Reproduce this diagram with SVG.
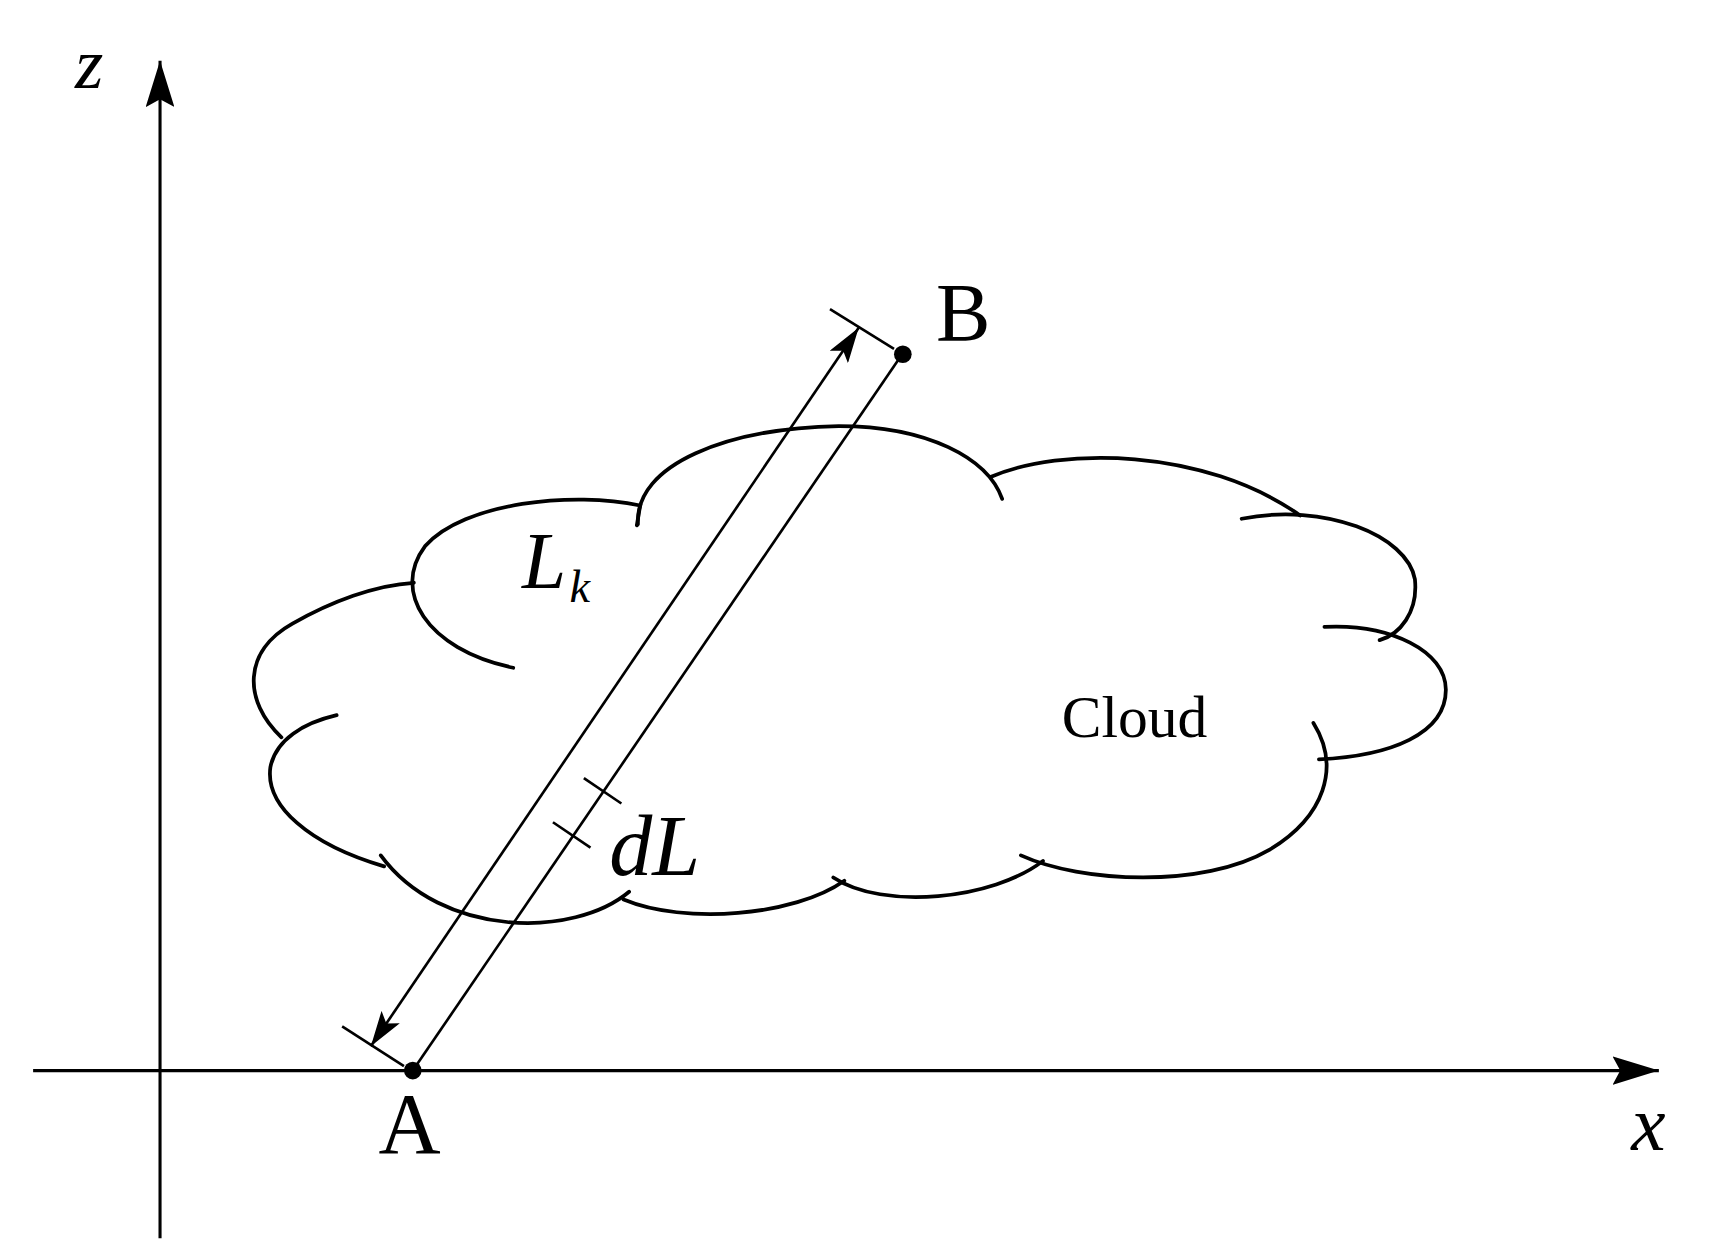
<svg xmlns="http://www.w3.org/2000/svg" width="1713" height="1244" viewBox="0 0 1713 1244">
<style>
.ax{stroke:#000;stroke-width:2.8;fill:none}
.ln{stroke:#000;stroke-width:2.4;fill:none}
.cl{stroke:#000;stroke-width:3.4;fill:none;stroke-linecap:round}
.t{font-family:"Liberation Serif",serif;fill:#000}
.i{font-style:italic}
</style>
<defs>
<marker id="ah" viewBox="0 0 32 20" refX="32" refY="10" markerWidth="32" markerHeight="20" markerUnits="userSpaceOnUse" orient="auto-start-reverse"><path d="M0,0 L32,10 L0,20 L7,10 Z" fill="#000"/></marker>
<marker id="ax" viewBox="0 0 42 26" refX="42" refY="13" markerWidth="42" markerHeight="26" markerUnits="userSpaceOnUse" orient="auto"><path d="M0,0 L42,13 L0,26 L7,13 Z" fill="#000"/></marker>
</defs>
<rect width="1713" height="1244" fill="#fff"/>
<g transform="scale(1.1037)">
<g id="axes">
<line class="ax" x1="145" y1="1122" x2="145" y2="55" marker-end="url(#ax)"/>
<line class="ax" x1="30" y1="970" x2="1503" y2="970" marker-end="url(#ax)"/>
<text class="t i" x="68" y="80" font-size="66">z</text>
<text class="t i" x="1478" y="1042" font-size="70">x</text>
</g>
<g id="cloud">
<path class="cl" d="M465,605 C385,588 355,535 385,495 C420,455 520,445 580,458 L577,476"/>
<path class="cl" d="M578,475 C575,420 660,388 760,386 C840,386 895,415 908,452"/>
<path class="cl" d="M898,432 C960,405 1090,405 1178,467"/>
<path class="cl" d="M1125,470 C1200,455 1275,485 1282,525 C1285,555 1268,575 1250,580"/>
<path class="cl" d="M1200,568 C1260,565 1310,590 1310,625 C1310,665 1260,685 1195,688"/>
<path class="cl" d="M1190,655 C1215,695 1200,740 1150,770 C1090,805 980,800 925,775"/>
<path class="cl" d="M945,780 C900,815 800,825 755,795"/>
<path class="cl" d="M765,798 C720,830 620,838 565,815"/>
<path class="cl" d="M570,808 C520,850 400,850 345,775"/>
<path class="cl" d="M348,785 C280,765 240,730 245,695 C250,670 275,655 305,648"/>
<path class="cl" d="M255,668 C220,635 220,590 265,565 C300,545 340,530 375,528"/>
<text class="t" x="962" y="668" font-size="54">Cloud</text>
</g>
<g id="path">
<line class="ln" x1="374" y1="970" x2="818" y2="320"/>
<line class="ln" x1="529" y1="705" x2="563" y2="728"/>
<line class="ln" x1="501" y1="745" x2="535" y2="768"/>
<line class="ln" x1="336" y1="948" x2="778" y2="297" marker-start="url(#ah)" marker-end="url(#ah)"/>
<line class="ln" x1="310" y1="930" x2="366" y2="966"/>
<line class="ln" x1="752" y1="280" x2="810" y2="316"/>
<circle cx="374" cy="970" r="8" fill="#000"/>
<circle cx="818" cy="321" r="8" fill="#000"/>
<text class="t" x="343" y="1045" font-size="78">A</text>
<text class="t" x="848" y="308" font-size="74">B</text>
<text class="t i" x="552" y="793" font-size="78">dL</text>
<text class="t i" x="473" y="533" font-size="72">L</text>
<text class="t i" x="516" y="545" font-size="42">k</text>
</g>
</g>
</svg>
